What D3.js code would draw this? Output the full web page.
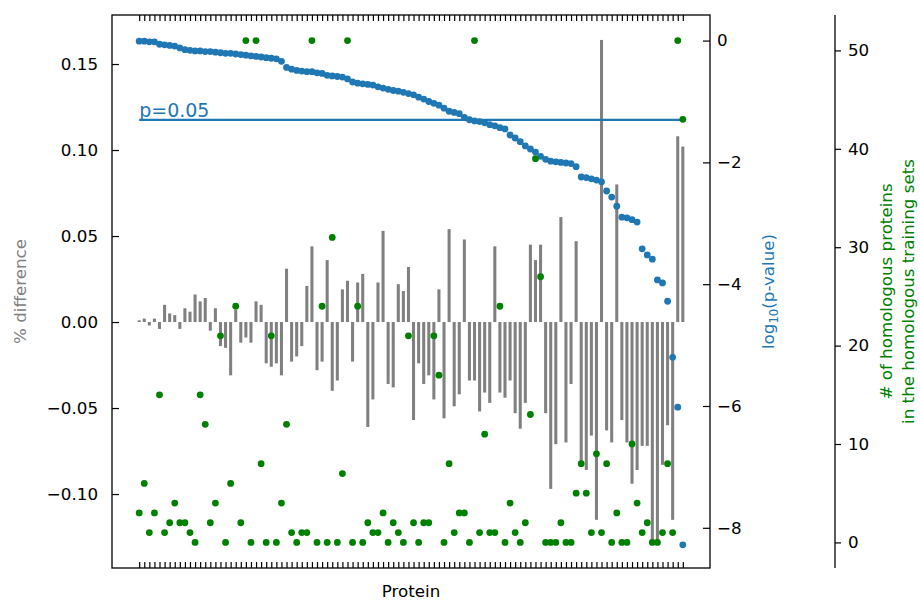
<!DOCTYPE html>
<html><head><meta charset="utf-8">
<script src="https://cdn.jsdelivr.net/npm/d3@7"></script>
<style>body{margin:0;background:#fff} text{font-family:"DejaVu Sans",sans-serif}</style>
</head><body><svg id="c" width="920" height="602"></svg>
<script>
// % difference per protein (gray bars)
const pctDiff = [0.001,0.002,-0.002,0.002,-0.004,0.010,0.005,0.004,-0.004,0.008,
0.006,0.016,0.012,0.014,-0.005,0.008,-0.014,-0.015,-0.031,0.007,
-0.012,-0.009,-0.012,0.012,0.010,-0.024,-0.026,-0.024,-0.031,0.031,
-0.023,-0.020,-0.014,0.021,0.044,-0.028,-0.023,0.036,-0.040,-0.034,
0.019,0.024,-0.023,0.023,0.028,-0.061,-0.045,0.023,0.053,-0.036,
-0.038,0.022,0.018,0.032,-0.057,-0.024,-0.036,-0.031,-0.045,0.019,
-0.056,0.054,-0.049,-0.042,0.048,-0.034,-0.034,-0.052,-0.041,-0.047,
0.044,-0.041,-0.044,-0.034,-0.053,-0.062,-0.047,0.045,0.036,0.045,
-0.053,-0.097,-0.071,0.061,-0.070,-0.036,0.047,-0.082,-0.086,-0.066,
-0.115,0.164,-0.063,-0.070,0.080,-0.057,-0.070,-0.094,-0.086,-0.072,
-0.072,-0.127,-0.127,-0.083,-0.060,-0.115,0.108,0.102];
// log10(p-value) per protein (blue points)
const log10p = [-0.01,-0.01,-0.02,-0.02,-0.06,-0.07,-0.08,-0.09,-0.12,-0.15,
-0.16,-0.17,-0.17,-0.18,-0.18,-0.19,-0.20,-0.21,-0.21,-0.22,
-0.23,-0.24,-0.25,-0.26,-0.27,-0.28,-0.29,-0.30,-0.34,-0.44,
-0.47,-0.49,-0.50,-0.51,-0.51,-0.53,-0.54,-0.57,-0.58,-0.59,
-0.60,-0.63,-0.68,-0.70,-0.71,-0.72,-0.73,-0.76,-0.78,-0.80,
-0.82,-0.83,-0.85,-0.87,-0.89,-0.93,-0.96,-1.00,-1.03,-1.06,
-1.11,-1.16,-1.18,-1.20,-1.26,-1.30,-1.32,-1.33,-1.35,-1.38,
-1.40,-1.43,-1.45,-1.55,-1.60,-1.66,-1.73,-1.78,-1.83,-1.90,
-1.95,-1.98,-1.99,-2.00,-2.01,-2.02,-2.07,-2.24,-2.25,-2.27,
-2.29,-2.32,-2.47,-2.57,-2.72,-2.90,-2.91,-2.94,-2.98,-3.42,
-3.52,-3.59,-3.93,-3.98,-4.28,-5.20,-6.02,-8.28];
// # of homologous proteins in the homologous training sets (green points)
const nHomologous = [3,6,1,3,15,1,2,4,2,2,
1,0,15,12,2,4,21,0,6,24,
2,51,0,51,8,0,21,0,4,12,
1,0,1,1,51,0,24,0,31,0,
7,51,0,24,0,2,1,1,3,0,
2,1,0,21,2,0,2,2,21,17,
0,8,1,3,3,0,51,1,11,1,
1,24,0,4,1,0,2,13,39,27,
0,0,0,2,0,0,5,8,5,1,
9,1,8,0,3,0,0,10,4,1,
2,0,0,1,8,1,51,43];
const diffTicks = [-0.10,-0.05,0.00,0.05,0.10,0.15];
const pTicks = [-8,-6,-4,-2,0];
const hTicks = [0,10,20,30,40,50];
const pThreshold = 0.05;

const L=112,R=710,T=15,B=568;
const n = pctDiff.length;
const idx = d3.range(n);
const svg = d3.select("#c");
const x = d3.scaleLinear().domain([-0.05*(n-1),(n-1)*1.05]).range([L,R]);
const yL = d3.scaleLinear().domain([-0.143,0.1785]).range([B,T]);
const yP = d3.scaleLinear().domain([-8.66,0.42]).range([B,T]);
const yH = d3.scaleLinear().domain([-2.6,53.6]).range([B,T]);
const FS = 16.7;
const bw = (x(1)-x(0))*0.6;

// bars
svg.append("g").selectAll("rect").data(idx).join("rect")
  .attr("x",i=>x(i)-bw/2).attr("width",bw)
  .attr("y",i=>yL(Math.max(0,pctDiff[i])))
  .attr("height",i=>Math.abs(yL(pctDiff[i])-yL(0)))
  .attr("fill","#808080");

// p threshold line
const lp = Math.log10(pThreshold);
svg.append("line").attr("x1",x(0)).attr("x2",x(n-1)).attr("y1",yP(lp)).attr("y2",yP(lp))
  .attr("stroke","#1f77b4").attr("stroke-width",2.2);
svg.append("text").attr("x",x(0)).attr("y",yP(lp)-3).attr("fill","#1f77b4")
  .attr("font-size",19).text("p=0.05");

// blue points
svg.append("g").selectAll("circle").data(idx).join("circle")
  .attr("cx",i=>x(i)).attr("cy",i=>yP(log10p[i])).attr("r",3.4).attr("fill","#1f77b4");
// green points
svg.append("g").selectAll("circle").data(idx).join("circle")
  .attr("cx",i=>x(i)).attr("cy",i=>yH(nHomologous[i])).attr("r",3.4).attr("fill","#008000");

// frame
svg.append("rect").attr("x",L).attr("y",T).attr("width",R-L).attr("height",B-T)
  .attr("fill","none").attr("stroke","#000").attr("stroke-width",1.3);

function style(g){g.select(".domain").remove();g.selectAll("line").attr("stroke","#000").attr("stroke-width",1.2);
  g.selectAll("text").attr("font-size",FS).attr("font-family","DejaVu Sans").attr("fill","#000");}

// left axis
svg.append("g").attr("transform",`translate(${L},0)`)
  .call(d3.axisLeft(yL).tickValues(diffTicks).tickFormat(d3.format(".2f")).tickSizeInner(-7).tickSizeOuter(0).tickPadding(14))
  .call(style);
// right p axis
svg.append("g").attr("transform",`translate(${R},0)`)
  .call(d3.axisRight(yP).tickValues(pTicks).tickFormat(d3.format("d")).tickSizeInner(-7).tickSizeOuter(0).tickPadding(7))
  .call(style);
// x ticks top & bottom
svg.append("g").attr("transform",`translate(0,${B})`)
  .call(d3.axisBottom(x).tickValues(idx).tickFormat("").tickSizeInner(-6).tickSizeOuter(0)).call(style);
svg.append("g").attr("transform",`translate(0,${T})`)
  .call(d3.axisTop(x).tickValues(idx).tickFormat("").tickSizeInner(-6).tickSizeOuter(0)).call(style);
// homologous axis
const HX = 835;
svg.append("g").attr("transform",`translate(${HX},0)`)
  .call(d3.axisRight(yH).tickValues(hTicks).tickFormat(d3.format("d")).tickSizeInner(6).tickSizeOuter(0).tickPadding(7))
  .call(style);
svg.append("line").attr("x1",HX).attr("x2",HX).attr("y1",T).attr("y2",B).attr("stroke","#000").attr("stroke-width",1.3);

// axis labels
svg.append("text").attr("transform",`translate(26,${(T+B)/2}) rotate(-90)`).attr("text-anchor","middle")
  .attr("font-size",FS).attr("fill","#808080").text("% difference");
const pl = svg.append("text").attr("transform",`translate(774,${(T+B)/2}) rotate(-90)`).attr("text-anchor","middle")
  .attr("font-size",FS).attr("fill","#1f77b4");
pl.append("tspan").text("log");
pl.append("tspan").attr("font-size",FS*0.7).attr("dy",4).text("10");
pl.append("tspan").attr("dy",-4).text("(p-value)");
const hl = svg.append("text").attr("transform",`translate(892,${(T+B)/2}) rotate(-90)`).attr("text-anchor","middle")
  .attr("font-size",FS).attr("fill","#008000");
hl.append("tspan").attr("x",0).attr("dy",0).text("# of homologous proteins");
hl.append("tspan").attr("x",0).attr("dy",22).text("in the homologous training sets");
svg.append("text").attr("x",(L+R)/2).attr("y",597).attr("text-anchor","middle").attr("font-size",FS).text("Protein");
</script></body></html>
